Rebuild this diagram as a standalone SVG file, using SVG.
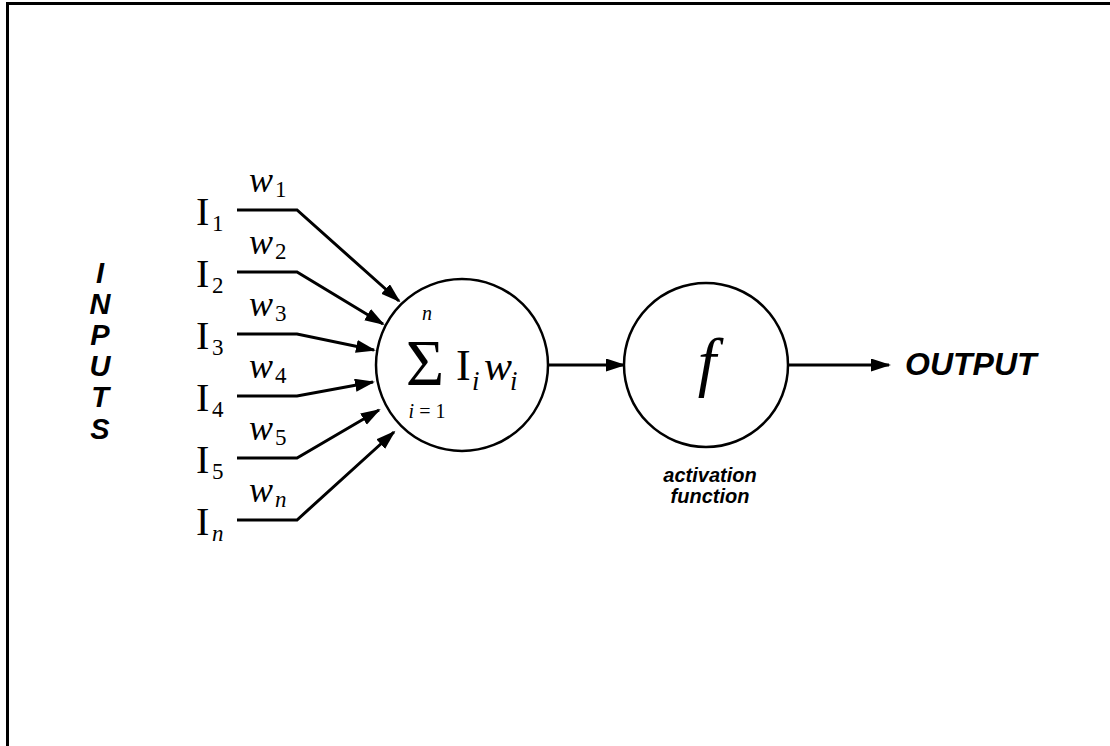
<svg xmlns="http://www.w3.org/2000/svg" width="1110" height="746" viewBox="0 0 1110 746">
<style>
.serif{font-family:"Liberation Serif","Times New Roman",serif;fill:#000}
.it{font-style:italic}
.sans{font-family:"Liberation Sans",Arial,sans-serif;font-weight:bold;font-style:italic;fill:#000}
.conn{fill:none;stroke:#000;stroke-width:3;marker-end:url(#ah)}
.node{fill:#fff;stroke:#000;stroke-width:2.5}
</style>
<defs>
<marker id="ah" markerUnits="userSpaceOnUse" markerWidth="22" markerHeight="14" refX="18" refY="6.5" orient="auto">
<path d="M0,0 L20,6.5 L0,13 z" fill="#000"/>
</marker>
</defs>
<rect width="1110" height="746" fill="#fff"/>
<path d="M7.5,746 V3.5 H1110" fill="none" stroke="#000" stroke-width="3"/>
<g id="inputs-label" class="sans" font-size="29" text-anchor="middle">
<text x="100" y="283">I</text>
<text x="100" y="314">N</text>
<text x="100" y="345">P</text>
<text x="100" y="376">U</text>
<text x="100" y="407">T</text>
<text x="100" y="439">S</text>
</g>
<g id="connectors">
<path class="conn" d="M237,210 H297 L399,301"/>
<path class="conn" d="M237,272 H297 L383,324"/>
<path class="conn" d="M237,334 H297 L374,350"/>
<path class="conn" d="M237,396 H297 L373,382"/>
<path class="conn" d="M237,458 H297 L379,410"/>
<path class="conn" d="M237,520 H297 L394,432"/>
<path class="conn" d="M548,365 H624"/>
<path class="conn" d="M788,365 H889"/>
</g>
<g id="input-1"><text class="serif" x="196" y="225" font-size="40">I</text><text class="serif" x="212" y="231" font-size="23">1</text><text class="serif it" x="249" y="192" font-size="36">w</text><text class="serif" x="275" y="197" font-size="23">1</text></g>
<g id="input-2"><text class="serif" x="196" y="287" font-size="40">I</text><text class="serif" x="212" y="293" font-size="23">2</text><text class="serif it" x="249" y="254" font-size="36">w</text><text class="serif" x="275" y="259" font-size="23">2</text></g>
<g id="input-3"><text class="serif" x="196" y="349" font-size="40">I</text><text class="serif" x="212" y="355" font-size="23">3</text><text class="serif it" x="249" y="316" font-size="36">w</text><text class="serif" x="275" y="321" font-size="23">3</text></g>
<g id="input-4"><text class="serif" x="196" y="411" font-size="40">I</text><text class="serif" x="212" y="417" font-size="23">4</text><text class="serif it" x="249" y="378" font-size="36">w</text><text class="serif" x="275" y="383" font-size="23">4</text></g>
<g id="input-5"><text class="serif" x="196" y="473" font-size="40">I</text><text class="serif" x="212" y="479" font-size="23">5</text><text class="serif it" x="249" y="440" font-size="36">w</text><text class="serif" x="275" y="445" font-size="23">5</text></g>
<g id="input-n"><text class="serif" x="196" y="535" font-size="40">I</text><text class="serif it" x="212" y="541" font-size="23">n</text><text class="serif it" x="249" y="502" font-size="36">w</text><text class="serif it" x="275" y="507" font-size="23">n</text></g>
<g id="sum-node">
<circle class="node" cx="462" cy="365" r="86"/>
<text class="serif it" x="427" y="320" font-size="20" text-anchor="middle">n</text>
<text class="serif" x="425" y="385" font-size="66" text-anchor="middle">Σ</text>
<text class="serif" x="427" y="418" font-size="20" text-anchor="middle"><tspan font-style="italic">i</tspan> = 1</text>
<text class="serif" x="456" y="380" font-size="44">I</text>
<text class="serif it" x="472" y="390" font-size="27">i</text>
<text class="serif it" x="484" y="380" font-size="42">w</text>
<text class="serif it" x="510" y="390" font-size="27">i</text>
</g>
<g id="activation-node">
<circle class="node" cx="706" cy="365" r="82"/>
<text class="serif it" x="707" y="384" font-size="66" text-anchor="middle">f</text>
<text class="sans" x="710" y="482" font-size="20" text-anchor="middle">activation</text>
<text class="sans" x="710" y="503" font-size="20" text-anchor="middle">function</text>
</g>
<g id="output"><text class="sans" x="905" y="375" font-size="32">OUTPUT</text></g>
</svg>
